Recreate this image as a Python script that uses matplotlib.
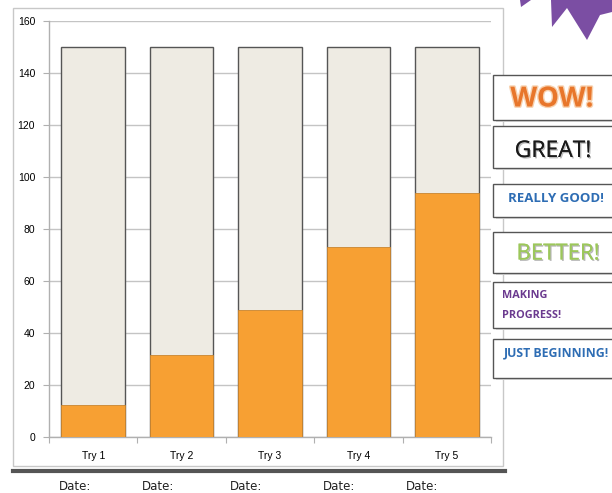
import matplotlib
matplotlib.use("Agg")
import matplotlib.pyplot as plt
from matplotlib.patches import Rectangle, Polygon
from matplotlib.transforms import Affine2D
import matplotlib.patheffects as pe

categories = ["Try 1", "Try 2", "Try 3", "Try 4", "Try 5"]
scores = [12.5, 31.5, 49, 73, 94]
max_score = [150, 150, 150, 150, 150]
y_ticks = [0, 20, 40, 60, 80, 100, 120, 140, 160]
date_labels = ["Date:", "Date:", "Date:", "Date:", "Date:"]

W, H = 612, 493
fig = plt.figure(figsize=(W / 100, H / 100), dpi=100)
fig.patch.set_facecolor("white")
px = Affine2D().scale(1 / W, -1 / H).translate(0, 1) + fig.transFigure

# outer chart frame
fig.add_artist(Rectangle((13, 8), 490, 458, transform=px, fill=False,
                         edgecolor="#c8c8c8", lw=1.0))
# thick underline
fig.add_artist(plt.Line2D([13, 505], [470.5, 470.5], transform=px,
                          color="#555555", lw=3.0))

ax = fig.add_axes([49 / W, 1 - 437 / H, (491 - 49) / W, (437 - 21) / H])
x = list(range(len(categories)))
ax.bar(x, max_score, width=0.72, color="#EEEBE3", edgecolor="#555555",
       linewidth=1.0, zorder=2)
ax.bar(x, scores, width=0.72, color="#F7A033", edgecolor="#C98530",
       linewidth=0.6, zorder=3)
ax.set_xlim(-0.5, 4.5)
ax.set_ylim(0, 160)
ax.set_yticks(y_ticks)
ax.set_yticklabels([str(v) for v in y_ticks], fontsize=7.5, family="Liberation Sans")
ax.yaxis.grid(True, color="#c4c4c4", lw=1.0, zorder=0)
ax.set_axisbelow(True)
ax.set_xticks([i + 0.5 for i in range(-1, 5)], minor=False)
ax.set_xticklabels([])
ax.set_xticks(x, minor=True)
ax.set_xticklabels(categories, minor=True, fontsize=7.5, family="Liberation Sans")
ax.tick_params(axis="x", which="minor", length=0, pad=10)
ax.tick_params(axis="x", which="major", length=4, color="#b0b0b0")
ax.tick_params(axis="y", length=4, color="#b0b0b0", pad=6)
for s in ["top", "right"]:
    ax.spines[s].set_visible(False)
for s in ["left", "bottom"]:
    ax.spines[s].set_color("#b0b0b0")
    ax.spines[s].set_linewidth(1.0)

# Date labels
for cx, lab in zip([75, 158, 246, 339, 422], date_labels):
    fig.text(cx / W, 1 - 486 / H, lab, ha="center", va="center",
             fontsize=8.5, family="DejaVu Sans", color="#222222")

# purple star (partial, top-right)
fig.add_artist(Polygon([(520, 0), (531, 0), (521, 7)], closed=True,
                       transform=px, color="#7B4EA3", lw=0))
fig.add_artist(Polygon([(551, 0), (612, 0), (612, 12), (600, 15), (587, 40),
                        (567, 8), (552, 27)], closed=True,
                       transform=px, color="#7B4EA3", lw=0))

# right boxes
boxes = [(75, 120), (126, 168), (184, 217), (232, 273), (282, 328), (339, 378)]
for (y0, y1) in boxes:
    fig.add_artist(Rectangle((496, y0 + 2), 130, y1 - y0, transform=px,
                             facecolor="#dddddd", edgecolor="none"))
    fig.add_artist(Rectangle((493, y0), 130, y1 - y0, transform=px,
                             facecolor="white", edgecolor="#555555", lw=1.0))

def t(xp, yp, s, **kw):
    fig.text(xp / W, 1 - yp / H, s, **kw)

t(552, 99, "WOW!", ha="center", va="center", fontsize=20, fontweight="bold",
  family="Open Sans", color="#E8762B",
  path_effects=[pe.withStroke(linewidth=2.0, foreground="#F8D2B0")])
t(553, 151, "GREAT!", ha="center", va="center", fontsize=16.5,
  family="Open Sans", color="#1a1a1a",
  path_effects=[pe.withSimplePatchShadow(offset=(1, -1), shadow_rgbFace="#aaaaaa", alpha=0.8), pe.Normal()])
t(556, 199, "REALLY GOOD!", ha="center", va="center", fontsize=9.5,
  family="Open Sans", fontweight="bold", color="#2E6DB4")
t(558, 254, "BETTER!", ha="center", va="center", fontsize=16,
  family="Open Sans", color="#9CC75A",
  path_effects=[pe.withSimplePatchShadow(offset=(1, -1), shadow_rgbFace="#999999", alpha=0.7), pe.Normal()])
t(502, 296, "MAKING", ha="left", va="center", fontsize=7.8,
  family="Open Sans", fontweight="bold", color="#6B3A8F")
t(502, 316, "PROGRESS!", ha="left", va="center", fontsize=7.8,
  family="Open Sans", fontweight="bold", color="#6B3A8F")
t(504, 353, "JUST BEGINNING!", ha="left", va="center", fontsize=8.8,
  family="Open Sans", fontweight="bold", color="#2E6DB4")

fig.savefig("out.png", dpi=100)
